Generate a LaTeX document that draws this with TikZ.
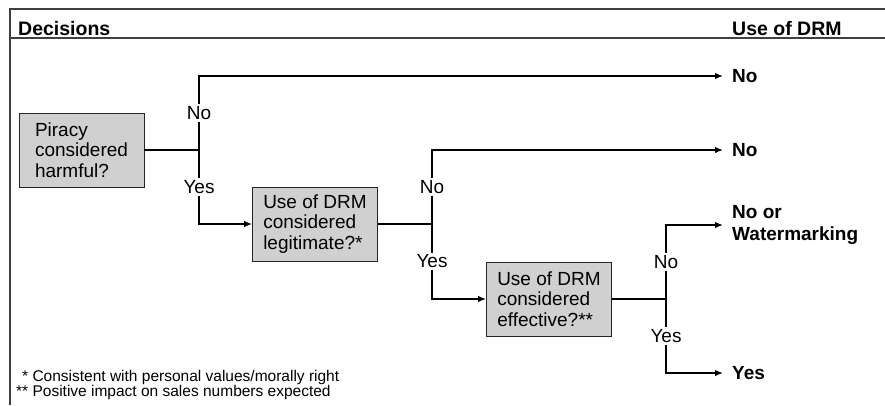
\documentclass[tikz,border=0pt]{standalone}
\usepackage{fontspec}
\setmainfont{Liberation Sans}
\usepackage{tikz}
\usepackage{xcolor}
\usetikzlibrary{arrows.meta, positioning, calc}
\definecolor{boxgray}{RGB}{208,208,208}

\begin{document}
\begin{tikzpicture}[x=1pt, y=-1pt,
  decision/.style={draw=black!85, line width=0.9pt, rectangle, fill=boxgray, minimum width=125pt, minimum height=74pt, align=left, font=\fontsize{19}{20.5}\selectfont},
  outcome/.style={anchor=west, align=left, inner xsep=9pt, font=\fontsize{19}{22}\selectfont\bfseries},
  lbl/.style={fill=white, inner xsep=1pt, inner ysep=2pt, font=\fontsize{19}{20.5}\selectfont},
  link/.style={line width=1.4pt},
  arr/.style={link, -{Latex[length=8pt, width=6.5pt]}},
  frame/.style={line width=1.3pt, black!75}]
\useasboundingbox (0,0) rectangle (885,405);

% Frame and header
\draw[frame] (10,405) -- (10,9) -- (885,9);
\draw[frame] (10,38) -- (885,38);
\node[anchor=base west, inner sep=0, font=\fontsize{19.5}{22}\selectfont\bfseries] (hdec) at (18,35) {Decisions};
\node[anchor=base west, inner sep=0, font=\fontsize{19.5}{22}\selectfont\bfseries] (hdrm) at (732,35) {Use of DRM};

% Decision boxes
\node[decision] (harm) at (81.5,150) {Piracy\\considered\\harmful?};
\node[decision] (legit) at (315,224) {Use of DRM\\considered\\legitimate?*};
\node[decision] (effect) at (549,299) {Use of DRM\\considered\\effective?**};

% Outcomes
\node[outcome] (out1) at (723,76) {No};
\node[outcome] (out2) at (723,150) {No};
\node[outcome] (out3) at (723,225) {No or\\Watermarking};
\node[outcome] (out4) at (723,373) {Yes};

% Branch points
\coordinate (j1) at (199,150);
\coordinate (j2) at (432,224);
\coordinate (j3) at (666,299);

% Connectors
\draw[link] (harm.east) -- (j1);
\draw[arr] (j1) |- node[lbl, pos=0.25] {No} (out1.west);
\draw[arr] (j1) |- node[lbl, pos=0.25] {Yes} (legit.west);

\draw[link] (legit.east) -- (j2);
\draw[arr] (j2) |- node[lbl, pos=0.25] {No} (out2.west);
\draw[arr] (j2) |- node[lbl, pos=0.25] {Yes} (effect.west);

\draw[link] (effect.east) -- (j3);
\draw[arr] (j3) |- node[lbl, pos=0.25] {No} (out3.west);
\draw[arr] (j3) |- node[lbl, pos=0.25] {Yes} (out4.west);

% Footnotes
\node[anchor=base west, inner sep=0, font=\fontsize{15.5}{15}\selectfont] (note1) at (22,381) {* Consistent with personal values/morally right};
\node[anchor=base west, inner sep=0, font=\fontsize{15.5}{15}\selectfont] (note2) at (16,396) {** Positive impact on sales numbers expected};

\end{tikzpicture}
\end{document}
